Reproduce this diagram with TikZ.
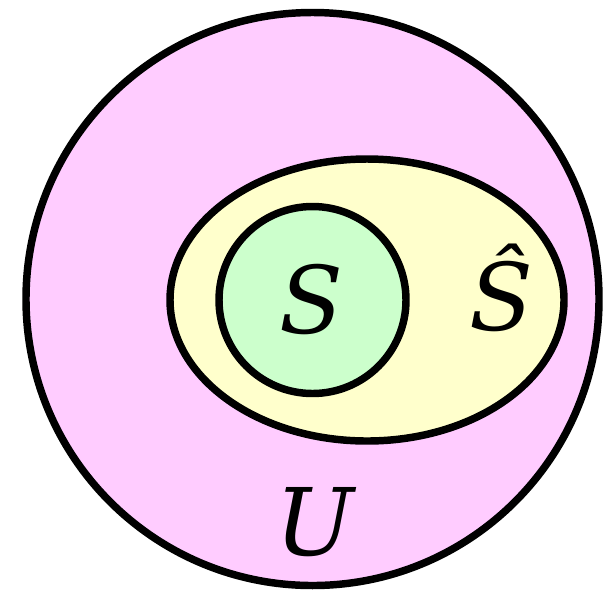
\documentclass[tikz,border=0pt]{standalone}
\usepackage{fontspec}
\setmainfont{DejaVu Serif}
\usepackage{tikz}
\usetikzlibrary{shapes.geometric}

\begin{document}
\begin{tikzpicture}[
  x=0.75pt, y=-0.75pt,
  setline/.style={draw=black, line width=5.6pt},
  setlabel/.style={font=\fontsize{70}{80}\selectfont\itshape, inner sep=0pt}
]
\useasboundingbox (0,0) rectangle (605,594);

% Universe
\draw[setline, fill={rgb,255:red,255;green,204;blue,255}] (312.5,299) circle [radius=286.5];

% Hat S
\draw[setline, fill={rgb,255:red,255;green,255;blue,204}] (367,300) ellipse [x radius=197, y radius=141];

% S
\draw[setline, fill={rgb,255:red,204;green,255;blue,204}] (312.5,300) circle [radius=93.5];

% Labels
\node[setlabel] (lblS) at (311,300) {S};
\node[setlabel] (lblShat) at (501,288) {\^{S}};
\node[setlabel] (lblU) at (315,522) {U};

\end{tikzpicture}
\end{document}
